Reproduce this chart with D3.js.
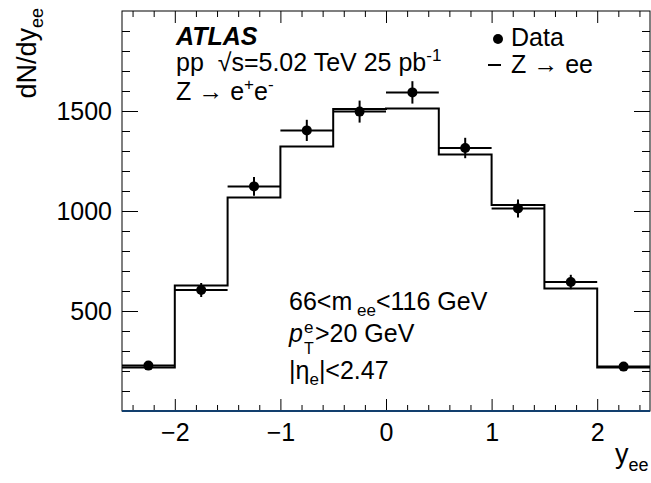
<!DOCTYPE html>
<html>
<head>
<meta charset="utf-8">
<script src="https://cdn.jsdelivr.net/npm/d3@7"></script>
<style>
  body { margin: 0; background: #fff; }
  svg text { font-family: "Liberation Sans", Arial, Helvetica, sans-serif; fill: #000; white-space: pre; }
</style>
</head>
<body>
<svg id="chart"></svg>
<script>
// bin edges in y_ee, data (dN/dy) with stat errors, and MC prediction
const binEdges = [-2.5, -2, -1.5, -1, -0.5, 0, 0.5, 1, 1.5, 2, 2.5];
const dataVals = [227, 605, 1123, 1403, 1497, 1593, 1315, 1013, 645, 222];
const dataErr  = [21, 35, 47, 53, 55, 56, 51, 45, 36, 21];
const mcVals   = [217, 627, 1068, 1323, 1510, 1512, 1282, 1030, 612, 217];

const xMajor = [-2, -1, 0, 1, 2];
const yMajor = [500, 1000, 1500];

const width = 651;
const height = 483;
const margin = ({ top: 11, right: 1, bottom: 72, left: 122 });

const svg = d3.select("#chart")
    .attr("width", width)
    .attr("height", height);

// scales
let xScale = d3.scaleLinear()
    .domain([-2.5, 2.5])
    .range([margin.left, width - margin.right]);

let yScale = d3.scaleLinear()
    .domain([0, 2000])
    .range([height - margin.bottom, margin.top]);

const xMinor = d3.range(-12, 13).map(i => i / 5).filter(v => !xMajor.includes(v));
const yMinor = d3.range(1, 20).map(i => i * 100).filter(v => !yMajor.includes(v));

const x0 = margin.left, x1 = width - margin.right;
const y0 = height - margin.bottom, y1 = margin.top;

// axes
const axisStyle = g => {
    g.select(".domain").remove();
    g.selectAll("line").attr("stroke", "#000").attr("stroke-width", 1);
    g.selectAll("text")
        .style("font-family", "'Liberation Sans', Arial, sans-serif")
        .attr("font-size", 25)
        .attr("fill", "#000");
};

svg.append("g")
    .attr("transform", `translate(0,${y0})`)
    .call(d3.axisBottom(xScale).tickValues(xMajor).tickSize(-12).tickPadding(12).tickFormat(d3.format("d")))
    .call(axisStyle);
svg.append("g")
    .attr("transform", `translate(0,${y0})`)
    .call(d3.axisBottom(xScale).tickValues(xMinor).tickSize(-6).tickFormat(""))
    .call(axisStyle);
svg.append("g")
    .attr("transform", `translate(0,${y1})`)
    .call(d3.axisTop(xScale).tickValues(xMajor).tickSize(-12).tickFormat(""))
    .call(axisStyle);
svg.append("g")
    .attr("transform", `translate(0,${y1})`)
    .call(d3.axisTop(xScale).tickValues(xMinor).tickSize(-6).tickFormat(""))
    .call(axisStyle);

svg.append("g")
    .attr("transform", `translate(${x0},0)`)
    .call(d3.axisLeft(yScale).tickValues(yMajor).tickSize(-16).tickPadding(10).tickFormat(d3.format("d")))
    .call(axisStyle);
svg.append("g")
    .attr("transform", `translate(${x0},0)`)
    .call(d3.axisLeft(yScale).tickValues(yMinor).tickSize(-8).tickFormat(""))
    .call(axisStyle);
svg.append("g")
    .attr("transform", `translate(${x1},0)`)
    .call(d3.axisRight(yScale).tickValues(yMajor).tickSize(-16).tickFormat(""))
    .call(axisStyle);
svg.append("g")
    .attr("transform", `translate(${x1},0)`)
    .call(d3.axisRight(yScale).tickValues(yMinor).tickSize(-8).tickFormat(""))
    .call(axisStyle);

// frame
svg.append("rect")
    .attr("x", x0).attr("y", y1)
    .attr("width", x1 - x0).attr("height", y0 - y1)
    .attr("fill", "none").attr("stroke", "#000").attr("stroke-width", 1);

// MC histogram as a step line
const bins = mcVals.map((v, i) => ({ lo: binEdges[i], hi: binEdges[i + 1], mc: v, data: dataVals[i], err: dataErr[i] }));
const stepPts = bins.flatMap(b => [[b.lo, b.mc], [b.hi, b.mc]]);
svg.append("path")
    .datum(stepPts)
    .attr("fill", "none")
    .attr("stroke", "#000")
    .attr("stroke-width", 2)
    .attr("d", d3.line().x(d => xScale(d[0])).y(d => yScale(d[1])));

// data points with error bars
const pts = svg.append("g");
pts.selectAll(".hbar").data(bins).enter().append("line")
    .attr("x1", d => xScale(d.lo)).attr("x2", d => xScale(d.hi))
    .attr("y1", d => yScale(d.data)).attr("y2", d => yScale(d.data))
    .attr("stroke", "#000").attr("stroke-width", 2);
pts.selectAll(".vbar").data(bins).enter().append("line")
    .attr("x1", d => xScale((d.lo + d.hi) / 2)).attr("x2", d => xScale((d.lo + d.hi) / 2))
    .attr("y1", d => yScale(d.data - d.err)).attr("y2", d => yScale(d.data + d.err))
    .attr("stroke", "#000").attr("stroke-width", 2);
pts.selectAll("circle").data(bins).enter().append("circle")
    .attr("cx", d => xScale((d.lo + d.hi) / 2))
    .attr("cy", d => yScale(d.data))
    .attr("r", 5)
    .attr("fill", "#000");

// y = 0 line
svg.append("line")
    .attr("x1", x0).attr("x2", x1)
    .attr("y1", yScale(0)).attr("y2", yScale(0))
    .attr("stroke", "#123f6e").attr("stroke-width", 2);

// axis titles
const yt = svg.append("text")
    .attr("transform", "translate(36,8) rotate(-90)")
    .attr("text-anchor", "end")
    .attr("font-size", 27);
yt.append("tspan").text("dN/dy");
yt.append("tspan").attr("font-size", 18).attr("dy", 7).text("ee");

const xt = svg.append("text")
    .attr("x", 615).attr("y", 463)
    .attr("font-size", 27);
xt.append("tspan").text("y");
xt.append("tspan").attr("font-size", 18).attr("dy", 8).text("ee");

// labels
svg.append("text")
    .attr("x", 176).attr("y", 45)
    .attr("font-size", 25).attr("font-weight", "bold").attr("font-style", "italic")
    .text("ATLAS");

const l1 = svg.append("text").attr("x", 176).attr("y", 71).attr("font-size", 25);
l1.append("tspan").text("pp  √s=5.02 TeV 25 pb");
l1.append("tspan").attr("font-size", 17).attr("dy", -10).text("-1");

const l2 = svg.append("text").attr("x", 176).attr("y", 100).attr("font-size", 25);
l2.append("tspan").text("Z → e");
l2.append("tspan").attr("font-size", 17).attr("dy", -10).text("+");
l2.append("tspan").attr("dy", 10).text("e");
l2.append("tspan").attr("font-size", 17).attr("dy", -10).text("-");

// legend
svg.append("circle").attr("cx", 498).attr("cy", 39).attr("r", 5).attr("fill", "#000");
svg.append("text").attr("x", 511).attr("y", 46).attr("font-size", 25).text("Data");
svg.append("line").attr("x1", 488).attr("x2", 501).attr("y1", 65).attr("y2", 65)
    .attr("stroke", "#000").attr("stroke-width", 2);
svg.append("text").attr("x", 511).attr("y", 73).attr("font-size", 25).text("Z → ee");

// selection cuts
const c1 = svg.append("text").attr("x", 289).attr("y", 310).attr("font-size", 25);
c1.append("tspan").text("66<m");
c1.append("tspan").attr("font-size", 17).attr("dy", 6).text(" ee");
c1.append("tspan").attr("dy", -6).text("<116 GeV");

svg.append("text").attr("x", 289).attr("y", 342).attr("font-size", 25)
    .attr("font-style", "italic").text("p");
svg.append("text").attr("x", 304).attr("y", 333).attr("font-size", 17).text("e");
svg.append("text").attr("x", 304).attr("y", 354).attr("font-size", 16).text("T");
svg.append("text").attr("x", 315).attr("y", 342).attr("font-size", 25).text(">20 GeV");

const c3 = svg.append("text").attr("x", 289).attr("y", 379).attr("font-size", 25);
c3.append("tspan").text("|η");
c3.append("tspan").attr("font-size", 17).attr("dy", 6).text("e");
c3.append("tspan").attr("dy", -6).text("|<2.47");
</script>
</body>
</html>
